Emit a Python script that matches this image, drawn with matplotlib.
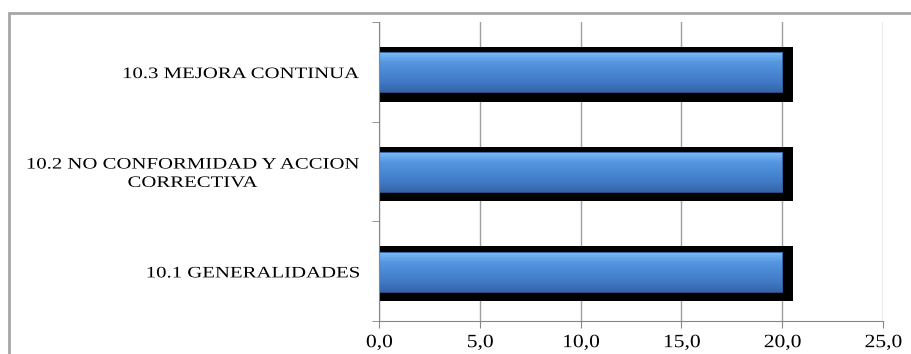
"""Horizontal bar chart with shadowed blue bars"""

import numpy as np
import matplotlib.pyplot as plt
from matplotlib import patches
from matplotlib.font_manager import FontProperties
from matplotlib.textpath import TextPath
from matplotlib.transforms import Affine2D

categories = [
    "10.1 GENERALIDADES",
    "10.2 NO CONFORMIDAD Y ACCION\nCORRECTIVA",
    "10.3 MEJORA CONTINUA",
]
values = [20.0, 20.0, 20.0]
xticks = [0, 5, 10, 15, 20, 25]
xticklabels = ["0,0", "5,0", "10,0", "15,0", "20,0", "25,0"]

SERIF = FontProperties(family="Liberation Serif")


def stretched_text(fig, s, x, y, size, sx, ha="center"):
    """Draw text widened horizontally (the reference is stretched).

    x, y are display pixels; y is the vertical middle of the caps.
    """
    k = fig.dpi / 72.0
    prop = SERIF.copy()
    prop.set_size(size)
    lines = s.split("\n")
    paths = [TextPath((0, 0), ln, prop=prop) for ln in lines]
    widths = [p.get_extents().x1 * k * sx for p in paths]
    block = max(widths)
    line_h = size * k * 1.15
    cap = 0.655 * size * k
    base0 = y + ((len(lines) - 1) * line_h) / 2 - cap / 2
    for i, (p, w) in enumerate(zip(paths, widths)):
        if ha == "right":
            x0 = x - block + (block - w) / 2
        else:
            x0 = x - w / 2
        tr = Affine2D().scale(k * sx, k).translate(x0, base0 - i * line_h)
        fig.add_artist(patches.PathPatch(p, transform=tr, fc="black",
                                         lw=0, zorder=10))


fig = plt.figure(figsize=(9.11, 3.54), dpi=100)
ax = fig.add_axes([379 / 911, 1 - 321 / 354, (883 - 379) / 911, 299 / 354])

# Outer chart frame (cut off at right/bottom like the reference)
frame = patches.Rectangle(
    (9 / 911, -0.1), 1.2, 1 - 13 / 354 + 0.1,
    transform=fig.transFigure, fill=False, edgecolor="#a6a6a6", lw=2,
    zorder=0,
)
fig.patches.append(frame)

y = np.arange(len(categories))

# Black shadow behind each bar
ax.barh(y - 0.025, np.array(values) + 0.55, height=0.55, color="black",
        zorder=2)

# Blue bars with a vertical gradient
grad = np.linspace(0, 1, 64).reshape(-1, 1)
cmap = plt.matplotlib.colors.LinearSegmentedColormap.from_list(
    "bar", ["#7cbcf6", "#5596e0", "#4a88d4", "#4079c6", "#3565a8"]
)
for yi, v in zip(y, values):
    ax.imshow(grad, extent=(0, v, yi - 0.205, yi + 0.195), aspect="auto",
              cmap=cmap, origin="upper", zorder=3)
    ax.add_patch(patches.Rectangle((0, yi - 0.205), v, 0.40, fill=False,
                                   edgecolor="#2e5a95", lw=0.6, zorder=4))

ax.set_xlim(0, 25)
ax.set_ylim(-0.5, 2.5)
ax.set_xticks(xticks)
ax.set_xticklabels([])
ax.set_yticks(y)
ax.set_yticklabels([])
ax.set_yticks([-0.5, 0.5, 1.5, 2.5], minor=True)
ax.tick_params(axis="y", which="major", length=0)
ax.tick_params(axis="y", which="minor", length=5, color="#868686",
               direction="out")
ax.tick_params(axis="x", length=5, color="#868686")

ax.grid(axis="x", color="#a0a0a0", lw=1, zorder=1)
ax.set_axisbelow(True)
for s in ["top", "right"]:
    ax.spines[s].set_visible(False)
for s in ["left", "bottom"]:
    ax.spines[s].set_color("#868686")
    ax.spines[s].set_zorder(5)

# Category labels, right aligned next to the axis
for yi, lab in zip(y, categories):
    px, py = ax.transData.transform((0, yi))
    stretched_text(fig, lab, px - 20, py - 1, 11.5, 1.3, ha="right")

# Tick labels along the x axis
for t, lab in zip(xticks, xticklabels):
    px, py = ax.transData.transform((t, -0.5))
    stretched_text(fig, lab, px, py - 20, 13.5, 1.15)

fig.savefig("out.png", dpi=100)
